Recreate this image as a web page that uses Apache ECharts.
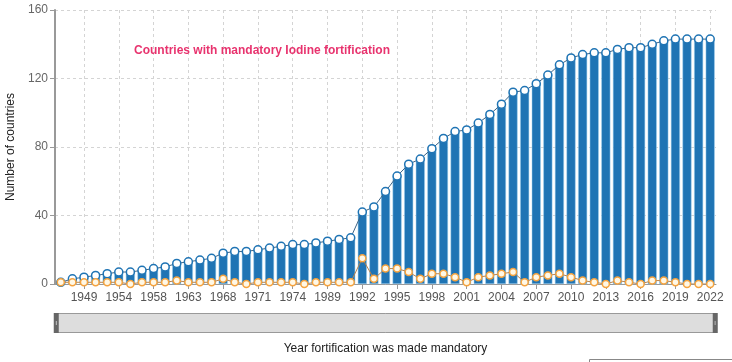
<!DOCTYPE html>
<html>
<head>
<meta charset="utf-8">
<script src="https://cdn.jsdelivr.net/npm/echarts@6/dist/echarts.min.js"></script>
<style>
html,body{margin:0;padding:0;background:#fff;}
#chart{width:732px;height:362px;}
</style>
</head>
<body>
<div id="chart"></div>
<script>
// Years (categories) in which fortification became mandatory somewhere
var years = ['1924','1945','1949','1950','1952','1954','1955','1956','1958','1960','1961','1963','1965','1966','1968','1969','1970','1971','1972','1973','1974','1978','1984','1989','1990','1991',
  '1992','1993','1994','1995','1996','1997','1998','1999','2000','2001','2002','2003','2004','2005','2006','2007','2008','2009','2010','2011','2012','2013','2014','2015','2016','2017','2018','2019','2020','2021','2022'];
// Cumulative number of countries
var cumulative = [1,3,4,5,6,7,7,8,9,10,12,13,14,15,18,19,19,20,21,22,23,23,24,25,26,27,
  42,45,54,63,70,73,79,85,89,90,94,99,105,112,113,117,122,128,132,134,135,135,137,138,138,140,142,143,143,143,143];
// New countries in that year
var newCountries = [1,1,1,1,1,1,0,1,1,1,2,1,1,1,3,1,0,1,1,1,1,0,1,1,1,1,
  15,3,9,9,7,3,6,6,4,1,4,5,6,7,1,4,5,6,4,2,1,0,2,1,0,2,2,1,0,0,0];
var yTicks = [0,40,80,120,160];

var titleText = 'Countries with mandatory Iodine fortification';
var xName = 'Year fortification was made mandatory';
var yName = 'Number of countries';

var showIdx = function (idx) { return idx % 3 === 2; };
var FONT = 'Liberation Sans, Arial, sans-serif';

var chart = echarts.init(document.getElementById('chart'), null, {renderer: 'canvas'});
chart.setOption({
  animation: false,
  backgroundColor: '#fff',
  title: {
    text: titleText,
    left: 129, top: 40,
    textStyle: {color: '#e8336e', fontSize: 12, fontWeight: 'bold', fontFamily: FONT}
  },
  grid: {left: 55, right: 16, top: 10, bottom: 78, containLabel: false, outerBoundsMode: 'none'},
  xAxis: {
    type: 'category',
    data: years,
    boundaryGap: true,
    name: xName,
    nameLocation: 'middle',
    nameGap: 59,
    nameTextStyle: {color: '#222', fontSize: 12, fontFamily: FONT},
    axisLine: {lineStyle: {color: '#999', width: 1}},
    axisTick: {show: true, alignWithLabel: true, interval: showIdx, length: 5, lineStyle: {color: '#999'}},
    axisLabel: {interval: showIdx, color: '#555', fontSize: 12, margin: 8, fontFamily: FONT, hideOverlap: false},
    splitLine: {show: true, alignWithLabel: true, interval: showIdx, lineStyle: {color: '#d4d4d4', type: [3, 3], width: 1}}
  },
  yAxis: {
    type: 'value',
    min: yTicks[0], max: yTicks[yTicks.length - 1], interval: 40,
    name: yName,
    nameLocation: 'middle',
    nameGap: 36,
    nameTextStyle: {color: '#222', fontSize: 12, fontFamily: FONT},
    axisLine: {show: true, lineStyle: {color: '#999', width: 2}},
    axisTick: {show: true, length: 5, lineStyle: {color: '#999'}},
    axisLabel: {color: '#666', fontSize: 12, margin: 7, fontFamily: FONT},
    splitLine: {show: true, lineStyle: {color: '#d4d4d4', type: [3, 3], width: 1}}
  },
  dataZoom: [{
    type: 'slider', xAxisIndex: 0, start: 0, end: 100,
    left: 55, right: 16, top: 313, height: 20,
    showDetail: false, showDataShadow: false, brushSelect: false,
    moveHandleSize: 0,
    backgroundColor: '#dcdcdc',
    fillerColor: 'rgba(221,221,221,1)',
    borderColor: '#999',
    borderRadius: 0,
    dataBackground: {lineStyle: {opacity: 0}, areaStyle: {opacity: 0}},
    selectedDataBackground: {lineStyle: {opacity: 0}, areaStyle: {opacity: 0}},
    handleIcon: 'path://M0,0H25V100H0Z M10,40V60H15V40Z',
    handleSize: '100%',
    handleStyle: {color: '#666', borderColor: '#666', borderWidth: 0},
    emphasis: {handleStyle: {color: '#666', borderColor: '#666'}}
  }],
  graphic: [{
    type: 'rect',
    shape: {x: 589.5, y: 359.5, width: 160, height: 20},
    style: {fill: '#fff', stroke: '#888', lineWidth: 1}
  }],
  series: [
    {
      type: 'bar',
      data: cumulative,
      barWidth: 9,
      itemStyle: {color: '#1f74b4', borderColor: '#9fd0ee', borderWidth: 0.5},
      z: 1
    },
    {
      type: 'line',
      data: cumulative,
      symbol: 'circle',
      symbolSize: 8,
      showSymbol: true,
      showAllSymbol: true,
      lineStyle: {color: '#3d6486', width: 1},
      itemStyle: {color: '#ffffff', borderColor: '#1f74b4', borderWidth: 1.5},
      z: 3
    },
    {
      type: 'line',
      data: newCountries,
      symbol: 'circle',
      symbolSize: 7,
      showSymbol: true,
      showAllSymbol: true,
      lineStyle: {color: '#b8824c', width: 1},
      itemStyle: {color: '#fff8e6', borderColor: '#f5a33f', borderWidth: 1.5},
      z: 4
    }
  ]
});
</script>
</body>
</html>
